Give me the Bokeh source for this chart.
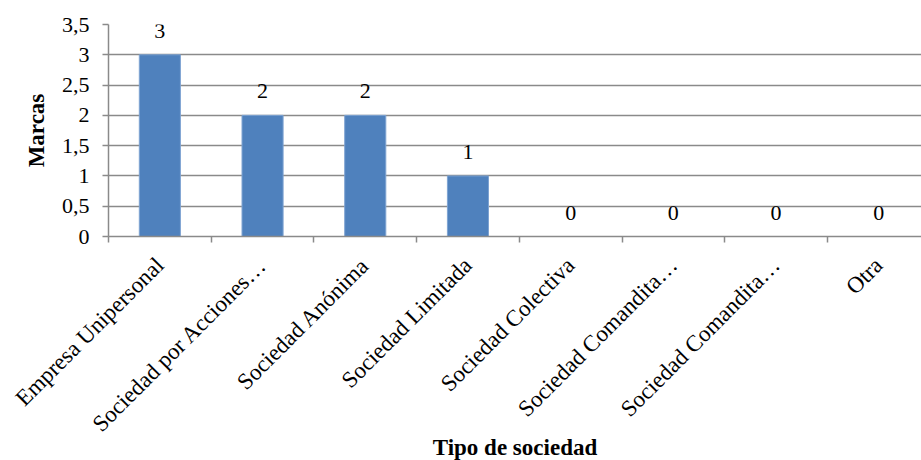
from bokeh.plotting import figure
from bokeh.models import Range1d, FixedTicker, CustomJSTickFormatter, ColumnDataSource
from bokeh.embed import file_html
from bokeh.resources import INLINE
from math import pi

# Number of trademarks by type of company
categorias = [
    "Empresa Unipersonal",
    "Sociedad por Acciones…",
    "Sociedad Anónima",
    "Sociedad Limitada",
    "Sociedad Colectiva",
    "Sociedad Comandita…",
    "Sociedad Comandita…",
    "Otra",
]
marcas = [3, 2, 2, 1, 0, 0, 0, 0]
y_ticks = [0, 0.5, 1, 1.5, 2, 2.5, 3, 3.5]

FONT = "Liberation Serif"
GRID = "#8a8a8a"
BAR = "#4F81BD"

n = len(categorias)
centros = [i + 0.5 for i in range(n)]
src = ColumnDataSource(dict(x=centros, y=marcas, lbl=[str(v) for v in marcas]))

p = figure(
    width=921, height=460,
    frame_width=813, frame_height=212,
    min_border_left=108, min_border_top=24, min_border_right=0, min_border_bottom=0,
    x_range=Range1d(0, 7.916), y_range=Range1d(0, 3.5),
    output_backend="svg", toolbar_location=None,
)
p.outline_line_color = None
p.background_fill_color = "white"
p.border_fill_color = "white"

# horizontal grid
p.xgrid.visible = False
p.ygrid.ticker = FixedTicker(ticks=y_ticks)
p.ygrid.grid_line_color = GRID
p.ygrid.grid_line_width = 1.5

p.vbar(x="x", top="y", width=0.4, bottom=0, source=src,
       fill_color=BAR, line_color="#7ea3d2", line_width=1)

p.text(x="x", y="y", text="lbl", source=src,
       text_font=dict(value=FONT), text_font_size="22px",
       text_align="center", text_baseline="middle", y_offset=-24,
       text_color="black")

# y axis
ya = p.yaxis[0]
ya.ticker = FixedTicker(ticks=y_ticks)
ya.formatter = CustomJSTickFormatter(code="return tick.toString().replace('.', ',');")
ya.major_label_text_font = FONT
ya.major_label_text_font_size = "22px"
ya.major_label_text_color = "black"
ya.major_tick_in = 0
ya.major_tick_out = 6
ya.minor_tick_line_color = None
ya.axis_line_color = GRID
ya.axis_line_width = 1.5
ya.major_tick_line_color = GRID
ya.major_tick_line_width = 1.5
ya.major_label_standoff = 13
ya.axis_label = "Marcas"
ya.axis_label_text_font = FONT
ya.axis_label_text_font_style = "bold"
ya.axis_label_text_font_size = "23px"
ya.axis_label_text_color = "black"
ya.axis_label_standoff = 10

# x axis: labels at category centres, tick marks between categories
xa = p.xaxis[0]
xa.ticker = FixedTicker(ticks=centros, minor_ticks=list(range(n + 1)))
xa.formatter = CustomJSTickFormatter(args=dict(labels=categorias),
                                     code="return labels[Math.floor(tick)];")
xa.major_label_orientation = pi / 4
xa.major_label_text_font = FONT
xa.major_label_text_font_size = "23px"
xa.major_label_text_color = "black"
xa.major_tick_line_color = None
xa.minor_tick_in = 0
xa.minor_tick_out = 6
xa.minor_tick_line_color = GRID
xa.minor_tick_line_width = 1.5
xa.axis_line_color = GRID
xa.axis_line_width = 1.5
xa.major_label_standoff = 19
xa.axis_label = "Tipo de sociedad"
xa.axis_label_text_font = FONT
xa.axis_label_text_font_style = "bold"
xa.axis_label_text_font_size = "23px"
xa.axis_label_text_color = "black"
xa.axis_label_standoff = -13

open("out.html", "w").write(file_html(p, INLINE))
